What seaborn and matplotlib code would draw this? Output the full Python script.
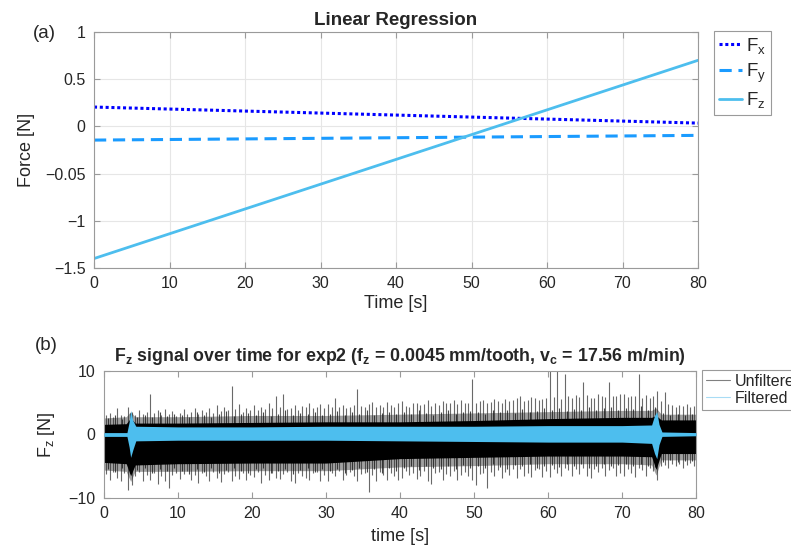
import matplotlib
matplotlib.use('Agg')
import pandas as pd
import seaborn as sns
import matplotlib.pyplot as plt

#%% data
# (a) linear regression lines, end points
t_fit = [0, 80]
fx_fit = [0.205, 0.035]
fy_fit = [-0.145, -0.095]
fz_fit = [-1.40, 0.70]
force_ticks = [-1.5, -1, -0.5, 0, 0.5, 1]
force_labels = ['\u22121.5', '\u22121', '\u22120.05', '0', '0.5', '1']

# (b) unfiltered signal: dense core band and lighter fringe
core_t = [0, 3.0, 3.6, 4.2, 10, 20, 30, 40, 50, 60, 70, 74.0, 74.6, 75.3, 80]
core_hi = [1.6, 1.7, 2.6, 1.8, 1.8, 1.9, 2.0, 2.0, 2.2, 2.5, 2.7, 2.7, 3.0, 2.3, 2.3]
core_lo = [-4.4, -4.6, -6.5, -4.8, -4.6, -4.5, -4.5, -3.8, -3.6, -3.4, -3.4, -3.5, -5.5, -3.0, -3.0]
fringe_hi = [2.6, 2.8, 3.6, 2.8, 2.8, 3.0, 3.0, 3.2, 3.4, 3.6, 3.8, 3.8, 4.2, 3.2, 3.2]
fringe_lo = [-5.6, -5.8, -7.4, -5.8, -5.8, -5.7, -5.7, -5.1, -4.9, -4.6, -4.6, -4.8, -6.4, -4.0, -4.0]

# (b) unfiltered spikes, one read every half second
spike_t = [round(0.25 + 0.5 * i, 2) for i in range(160)]
spike_up = [3.0, 3.4, 2.8, 4.2, 3.1, 2.9, 4.3, 3.6, 3.0, 3.8, 3.2, 3.5, 6.3, 3.4, 3.9, 3.0, 4.0, 3.3, 3.7, 2.9,
            3.4, 4.0, 3.2, 3.6, 4.1, 3.3, 3.8, 3.5, 4.2, 3.4, 4.6, 3.7, 4.3, 3.9, 7.6, 4.0, 4.8, 3.6, 4.1, 3.8,
            4.7, 3.9, 4.4, 4.0, 4.9, 4.1, 6.1, 4.3, 6.3, 4.0, 4.2, 4.6, 3.9, 4.5, 4.4, 5.0, 4.1, 4.3, 4.8, 4.2,
            4.8, 4.3, 5.8, 4.4, 4.6, 4.2, 4.4, 4.7, 7.1, 4.5, 4.3, 4.8, 5.1, 4.4, 4.7, 4.3, 5.1, 4.6, 4.4, 4.9,
            5.2, 4.5, 4.4, 4.9, 5.0, 4.6, 4.8, 5.4, 4.5, 5.0, 4.7, 5.2, 4.9, 5.0, 5.5, 4.8, 5.5, 4.9, 5.0, 8.8,
            5.0, 5.3, 5.4, 4.9, 5.1, 5.6, 5.3, 5.0, 5.6, 5.2, 5.4, 5.8, 6.1, 5.3, 5.5, 5.9, 5.7, 5.4, 5.6, 5.8,
            10.0, 5.9, 10.0, 5.6, 9.6, 6.0, 5.8, 6.2, 5.9, 8.2, 6.2, 5.7, 5.8, 6.4, 6.0, 5.9, 8.2, 6.1, 6.0, 6.3,
            6.3, 5.9, 6.1, 6.0, 9.6, 5.8, 6.2, 5.7, 6.0, 6.8, 5.2, 6.7, 4.8, 4.6, 4.4, 4.7, 4.5, 4.8, 4.3, 4.5]
spike_lo = [-6.2, -7.2, -5.9, -6.8, -7.4, -6.1, -8.8, -8.0, -6.6, -5.9, -7.4, -6.3, -7.2, -6.0, -7.8, -6.5, -7.3, -8.5, -6.4, -6.0,
            -7.0, -6.2, -5.8, -7.2, -6.4, -7.6, -6.1, -6.6, -7.4, -5.9, -6.8, -7.5, -6.2, -5.9, -7.3, -6.5, -7.0, -6.0, -7.2, -6.3,
            -6.7, -5.9, -7.6, -6.4, -7.2, -6.1, -6.8, -7.0, -6.2, -5.9, -7.4, -7.6, -6.0, -6.5, -6.8, -7.2, -6.1, -5.9, -7.4, -6.4,
            -7.4, -6.0, -6.6, -5.8, -7.1, -6.4, -5.9, -6.5, -7.3, -6.2, -6.0, -9.1, -6.4, -7.4, -5.9, -6.3, -7.2, -6.0, -6.6, -7.1,
            -6.8, -5.8, -6.4, -6.1, -7.0, -6.6, -5.8, -7.3, -7.8, -6.0, -5.9, -7.1, -6.2, -6.5, -5.8, -7.2, -6.4, -5.9, -6.6, -7.1,
            -8.0, -6.2, -6.1, -8.5, -5.9, -6.5, -5.6, -6.8, -5.9, -6.3, -5.5, -6.8, -5.4, -6.6, -6.0, -6.7, -5.6, -5.4, -6.7, -5.8,
            -6.7, -5.4, -6.0, -6.6, -5.3, -5.6, -6.6, -5.4, -6.2, -5.3, -6.5, -6.8, -5.4, -5.9, -5.2, -6.6, -5.6, -5.3, -6.5, -6.0,
            -6.6, -5.4, -6.1, -6.7, -5.3, -5.6, -6.5, -5.3, -5.8, -7.2, -5.0, -4.8, -5.2, -4.6, -5.0, -4.6, -5.3, -4.8, -4.5, -5.0]

# (b) shorter spikes in between, one read every second
spike2_t = [i + 0.5 for i in range(80)]
spike2_up = [2.6, 3.1, 2.5, 3.4, 2.8, 3.0, 2.7, 3.6, 2.9, 3.2, 3.0, 2.7, 3.5, 3.1, 2.8, 3.3, 3.7, 2.9, 3.2, 3.4,
             3.1, 3.6, 2.9, 3.3, 3.8, 3.0, 3.4, 3.2, 3.6, 3.1, 3.3, 3.7, 3.0, 3.5, 3.2, 3.8, 3.1, 3.4, 3.6, 3.3,
             3.5, 3.2, 3.8, 3.4, 3.1, 3.6, 3.9, 3.3, 3.5, 3.7, 3.6, 3.3, 3.9, 3.5, 3.8, 3.4, 4.0, 3.6, 3.7, 4.1,
             3.9, 4.2, 3.7, 4.0, 3.8, 4.3, 3.9, 4.1, 4.4, 3.8, 4.2, 4.0, 4.5, 3.9, 4.3, 3.4, 3.1, 3.3, 3.0, 3.2]
spike2_lo = [-5.4, -5.9, -5.2, -6.1, -5.6, -5.3, -6.0, -5.5, -5.8, -5.2, -5.7, -6.2, -5.4, -5.9, -5.3, -6.0, -5.6, -5.2, -5.8, -6.1,
             -5.5, -5.3, -6.0, -5.7, -5.4, -6.2, -5.6, -5.3, -5.9, -5.5, -5.8, -5.4, -6.1, -5.6, -5.2, -5.9, -5.5, -6.0, -5.3, -5.7,
             -5.2, -5.0, -5.6, -4.9, -5.3, -5.5, -5.0, -5.4, -4.8, -5.2, -4.9, -5.3, -4.7, -5.1, -5.4, -4.8, -5.0, -4.6, -5.2, -4.9,
             -4.8, -5.1, -4.6, -5.0, -4.7, -5.2, -4.9, -4.6, -5.0, -4.8, -4.7, -5.0, -4.6, -4.9, -5.1, -4.3, -4.0, -4.4, -4.1, -4.2]

# (b) filtered signal band
filt_t = [0, 3.1, 3.4, 3.6, 3.9, 4.3, 10, 20, 30, 40, 50, 60, 70, 74.0, 74.4, 74.7, 75.0, 75.4, 80]
filt_hi = [0.3, 0.3, 2.0, 3.8, 2.2, 1.3, 1.2, 1.2, 1.3, 1.3, 1.3, 1.4, 1.4, 1.5, 3.0, 3.6, 1.6, 0.4, 0.3]
filt_lo = [-0.3, -0.3, -2.0, -3.6, -2.4, -1.0, -0.9, -0.9, -0.9, -1.0, -1.1, -1.2, -1.2, -1.4, -3.0, -3.8, -1.6, -0.3, -0.2]

#%% style
sns.set_style('ticks')
plt.rcParams['font.family'] = ['Liberation Sans', 'DejaVu Sans']
plt.rcParams['mathtext.fontset'] = 'custom'
plt.rcParams['mathtext.rm'] = 'Liberation Sans'
plt.rcParams['mathtext.it'] = 'Liberation Sans'
plt.rcParams['mathtext.bf'] = 'Liberation Sans:bold'

fx_col = '#0000ff'
fy_col = '#1a9bff'
fz_col = '#4dbeee'
spine_col = '#9a9a9a'
text_col = '#262626'

fig = plt.figure(figsize=(7.91, 5.47), dpi=100)
ax1 = fig.add_axes([94/791, 1 - 268/547, 604/791, 236/547])
ax2 = fig.add_axes([104/791, 1 - 498/547, 592/791, 127/547])

def matlab_box(ax):
    for s in ax.spines.values():
        s.set_color(spine_col)
        s.set_linewidth(0.8)
    ax.tick_params(direction='in', top=True, right=True, length=4, pad=6,
                   color=spine_col, labelcolor=text_col, labelsize=11.5)

#%% (a) linear regression
fit = pd.DataFrame({'t': t_fit, 'Fx': fx_fit, 'Fy': fy_fit, 'Fz': fz_fit})
sns.lineplot(data=fit, x='t', y='Fx', ax=ax1, color=fx_col, lw=2.2,
             linestyle=(0, (1, 0.9)), label='F$_\\mathrm{x}$')
sns.lineplot(data=fit, x='t', y='Fy', ax=ax1, color=fy_col, lw=2.2,
             linestyle=(0, (4, 2.2)), label='F$_\\mathrm{y}$')
sns.lineplot(data=fit, x='t', y='Fz', ax=ax1, color=fz_col, lw=2.0,
             label='F$_\\mathrm{z}$')
ax1.set_xlim(0, 80)
ax1.set_ylim(-1.5, 1)
ax1.set_xticks(range(0, 81, 10))
ax1.set_yticks(force_ticks)
ax1.set_yticklabels(force_labels)
ax1.grid(True, color='#e6e6e6', lw=0.8)
matlab_box(ax1)
ax1.set_xlabel('Time [s]', fontsize=13, color=text_col, labelpad=3)
ax1.set_ylabel('Force [N]', fontsize=13, color=text_col, labelpad=7)
ax1.set_title('Linear Regression', fontsize=13.5, fontweight='bold', pad=5)
leg1 = ax1.legend(loc='upper left', bbox_to_anchor=(714/791, 1 - 31/547),
                  bbox_transform=fig.transFigure, fontsize=13.5,
                  fancybox=False, edgecolor=spine_col, framealpha=1,
                  handlelength=1.25, handletextpad=0.2, borderpad=0.25,
                  labelspacing=0.3, borderaxespad=0)
leg1.get_frame().set_linewidth(0.8)
fig.text(33/791, 1 - 33/547, '(a)', fontsize=13.5, color=text_col, va='center')

#%% (b) Fz signal
ax2.fill_between(core_t, fringe_lo, fringe_hi, color='#555555', alpha=0.55, lw=0, zorder=1)
ax2.vlines(spike_t, 0, spike_up, color='#2a2a2a', lw=0.8, alpha=0.7, zorder=1.5)
ax2.vlines(spike_t, spike_lo, 0, color='#2a2a2a', lw=0.8, alpha=0.7, zorder=1.5)
ax2.vlines(spike2_t, 0, spike2_up, color='#1a1a1a', lw=0.8, alpha=0.8, zorder=1.6)
ax2.vlines(spike2_t, spike2_lo, 0, color='#1a1a1a', lw=0.8, alpha=0.8, zorder=1.6)
ax2.fill_between(core_t, core_lo, core_hi, color='black', lw=0, zorder=2)
ax2.plot([], [], color='#808080', lw=0.8, label='Unfiltered')
ax2.fill_between(filt_t, filt_lo, filt_hi, color=fz_col, lw=0, zorder=3)
ax2.plot([], [], color='#a8dcf5', lw=0.8, label='Filtered')
ax2.set_xlim(0, 80)
ax2.set_ylim(-10, 10)
ax2.set_xticks(range(0, 81, 10))
ax2.set_yticks([-10, 0, 10])
ax2.set_yticklabels(['\u221210', '0', '10'])
matlab_box(ax2)
ax2.set_xlabel('time [s]', fontsize=13, color=text_col, labelpad=5)
ax2.set_ylabel('F$_\\mathrm{z}$ [N]', fontsize=13, color=text_col, labelpad=8)
ax2.set_title('F$_\\mathbf{z}$ signal over time for exp2 (f$_\\mathbf{z}$ = 0.0045 mm/tooth, '
              'v$_\\mathbf{c}$ = 17.56 m/min)', fontsize=12.8, fontweight='bold', pad=7)
leg2 = ax2.legend(loc='upper left', bbox_to_anchor=(702/791, 1 - 370/547),
                  bbox_transform=fig.transFigure, fontsize=11.5,
                  fancybox=False, edgecolor=spine_col, framealpha=1,
                  handlelength=1.5, handletextpad=0.3, borderpad=0.25,
                  labelspacing=0.1, borderaxespad=0)
leg2.get_frame().set_linewidth(0.8)
fig.text(35/791, 1 - 346/547, '(b)', fontsize=13.5, color=text_col, va='center')

fig.savefig('out.png', dpi=100)
